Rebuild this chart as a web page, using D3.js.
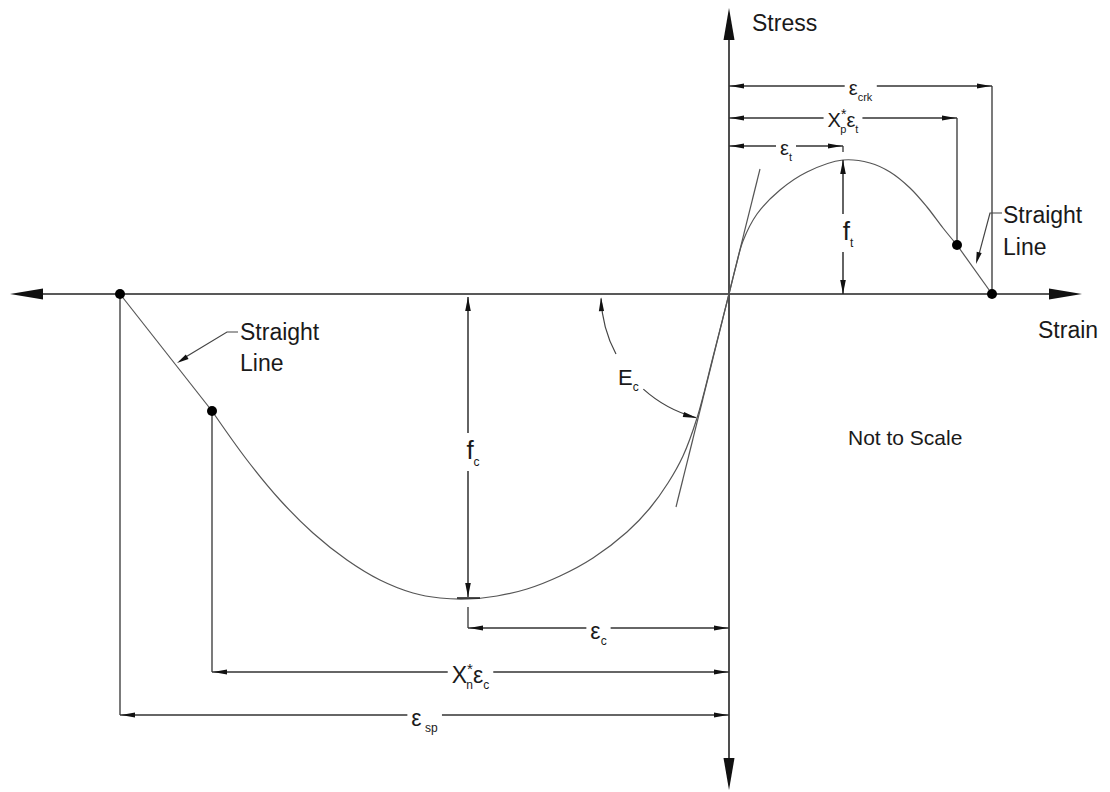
<!DOCTYPE html>
<html><head><meta charset="utf-8">
<script src="https://cdn.jsdelivr.net/npm/d3@7"></script>
<style>html,body{margin:0;padding:0;background:#fff}svg{display:block}text{font-family:"Liberation Sans",Arial,sans-serif;fill:#1a1a1a}</style>
</head><body><svg id="c" width="1110" height="792"></svg>
<script>
// ---- data (schematic units: strain, stress; "not to scale") ----
const compStraight = [[-609,0],[-517,-117]];
const compCurve = [[-517,-117],[-482,-166],[-449,-206],[-416,-239],[-382,-266],[-349,-286],[-316,-299],[-289,-304],[-261,-305],[-232,-302],[-202,-295],[-169,-282],[-136,-264],[-102,-238],[-79,-214],[-61,-189],[-46,-162],[-32,-124],[-16,-63],[0,0]];
const tensCurve = [[0,0],[7,28],[14,53],[28,80],[51,104],[78,122],[114,134],[141,131],[161,122],[181,106],[198,87],[214,66],[228,49]];
const tensStraight = [[228,49],[263,0]];
const tangentLine = [[-53,-213],[31,125]];
const keyPoints = [[-609,0],[-517,-117],[228,49],[263,0]];
const axisStrain = [-719,353];
const axisStress = [-496,286];

const dimNames = ["crk","xp","t","c","xn","sp"];
const dimLevels = [208,176,148,-334,-378,-421];
const dimFrom = [0,0,0,-261,-517,-609];
const dimTo = [263,228,114,0,0,0];
const dimLabels = [
  [["ε","m"],["crk","sub"]],
  [["X","m"],["*","sup"],["p","stack"],["ε","m"],["t","sub"]],
  [["ε","m"],["t","sub"]],
  [["ε","m"],["c","sub"]],
  [["X","m"],["*","sup"],["n","stack"],["ε","m"],["c","sub"]],
  [["ε","m"],[" sp","sub"]]
];
// extension lines: [strain, stressFrom, stressTo]
const extLines = [[263,0,208],[228,49,176],[114,142,148],[-261,-313,-334],[-517,-117,-378],[-609,0,-421]];
const peakTick = [[-272,-304],[-249,-304]];
const stressArrows = [{x:114, from:134, to:0, label:[["f","m"],["t","sub"]], ly:62},
                      {x:-261, from:-3, to:-303, label:[["f","m"],["c","sub"]], ly:-157}];

// ---- scales ----
const svg = d3.select("#c");
const x = d3.scaleLinear().domain([-719,356]).range([10,1085]);
const y = d3.scaleLinear().domain([289,-498]).range([5,792]);

function arrowHead(tx,ty,ang,len,hw,fill){
  const bx = tx - len*Math.cos(ang), by = ty - len*Math.sin(ang);
  const nx = -Math.sin(ang)*hw, ny = Math.cos(ang)*hw;
  svg.append("path").attr("d",`M${tx},${ty}L${bx+nx},${by+ny}L${bx-nx},${by-ny}Z`).attr("fill",fill||"#111");
}
function label(cx,by,parts,mainSize,subSize,anchor){
  const t = svg.append("text").attr("x",cx).attr("y",by).attr("text-anchor",anchor||"middle");
  let cur = 0;
  const off = {m:0, sub:Math.round(mainSize*0.28), sup:-Math.round(mainSize*0.38), stack:Math.round(mainSize*0.28)};
  parts.forEach(([s,k])=>{
    const sp = t.append("tspan").text(s).attr("font-size", k==="m"?mainSize:subSize);
    const d = off[k]-cur;
    if(d) sp.attr("dy",d);
    if(k==="stack") sp.attr("dx",-subSize*0.55);
    if(k==="sup") sp.attr("font-size",subSize+3);
    cur = off[k];
  });
  return t;
}

// ---- axes ----
svg.append("line").attr("x1",x(axisStrain[0])+20).attr("x2",x(axisStrain[1])-20).attr("y1",y(0)).attr("y2",y(0)).attr("stroke","#222").attr("stroke-width",1.6);
svg.append("line").attr("x1",x(0)).attr("x2",x(0)).attr("y1",y(axisStress[1])+20).attr("y2",y(axisStress[0])-20).attr("stroke","#222").attr("stroke-width",1.6);
arrowHead(x(axisStrain[0]),y(0),Math.PI,33,5.5);
arrowHead(x(axisStrain[1]),y(0),0,33,5.5);
arrowHead(x(0),y(axisStress[1]),-Math.PI/2,32,5.5);
arrowHead(x(0),y(axisStress[0]),Math.PI/2,32,5.5);

// ---- curve ----
const lineS = d3.line().x(d=>x(d[0])).y(d=>y(d[1]));
const lineC = d3.line().x(d=>x(d[0])).y(d=>y(d[1])).curve(d3.curveCatmullRom.alpha(0.5));
[compStraight,tensStraight].forEach(a=>svg.append("path").attr("d",lineS(a)).attr("fill","none").attr("stroke","#555").attr("stroke-width",1.2));
[compCurve,tensCurve].forEach(a=>svg.append("path").attr("d",lineC(a)).attr("fill","none").attr("stroke","#555").attr("stroke-width",1.2));
svg.append("path").attr("d",lineS(tangentLine)).attr("fill","none").attr("stroke","#555").attr("stroke-width",1.2);

// ---- extension lines ----
extLines.forEach(([s,a,b])=>svg.append("line").attr("x1",x(s)).attr("x2",x(s)).attr("y1",y(a)).attr("y2",y(b)).attr("stroke","#333").attr("stroke-width",1.3));
svg.append("path").attr("d",lineS(peakTick)).attr("stroke","#222").attr("stroke-width",1.6);

// ---- dimension lines ----
dimNames.forEach((n,i)=>{
  const ly = y(dimLevels[i]);
  const x0 = x(dimFrom[i]), x1 = x(dimTo[i]);
  const top = dimLevels[i] > 0;
  const t = label((x0+x1)/2, ly + (top?9:11), dimLabels[i], top?20:23, top?11:12);
  const bb = t.node().getBBox();
  const g0 = bb.x - 4, g1 = bb.x + bb.width + 4;
  svg.append("line").attr("x1",x0).attr("x2",g0).attr("y1",ly).attr("y2",ly).attr("stroke","#333").attr("stroke-width",1.3);
  svg.append("line").attr("x1",g1).attr("x2",x1).attr("y1",ly).attr("y2",ly).attr("stroke","#333").attr("stroke-width",1.3);
  arrowHead(x0+1,ly,Math.PI,14,2.6);
  arrowHead(x1-1,ly,0,14,2.6);
});

// ---- stress (f) arrows ----
stressArrows.forEach(d=>{
  const xx = x(d.x);
  const t = label(xx+5, y(d.ly)+8, d.label, 26, 12);
  const bb = t.node().getBBox();
  const ya = y(d.from), yb = y(d.to);
  svg.append("line").attr("x1",xx).attr("x2",xx).attr("y1",ya).attr("y2",bb.y-2).attr("stroke","#222").attr("stroke-width",1.4);
  svg.append("line").attr("x1",xx).attr("x2",xx).attr("y1",bb.y+bb.height+2).attr("y2",yb).attr("stroke","#222").attr("stroke-width",1.4);
  arrowHead(xx,ya,ya<yb?-Math.PI/2:Math.PI/2,14,2.8);
  arrowHead(xx,yb,yb>ya?Math.PI/2:-Math.PI/2,14,2.8);
});

// ---- E_c arc ----
const ox = x(0), oy = y(0), R = 128;
const deg = Math.PI/180;
function arcPath(a0,a1){ const p = d3.path(); p.moveTo(ox+R*Math.cos(a0),oy+R*Math.sin(a0)); p.arc(ox,oy,R,a0,a1,a1<a0); return p.toString(); }
svg.append("path").attr("d",arcPath(152*deg,178*deg)).attr("fill","none").attr("stroke","#444").attr("stroke-width",1.2);
svg.append("path").attr("d",arcPath(132*deg,105*deg)).attr("fill","none").attr("stroke","#444").attr("stroke-width",1.2);
arrowHead(ox+R*Math.cos(178.6*deg),oy+R*Math.sin(178.6*deg),-Math.PI/2-0.03,14,2.6);
{ const a=104.5*deg; arrowHead(ox+R*Math.cos(a),oy+R*Math.sin(a),a-Math.PI/2,14,2.6); }
label(x(-111),y(-91),[["E","m"],["c","sub"]],22,12,"start");

// ---- points ----
svg.selectAll("circle.k").data(keyPoints).join("circle").attr("cx",d=>x(d[0])).attr("cy",d=>y(d[1])).attr("r",5).attr("fill","#000");

// ---- texts & leaders ----
svg.append("text").attr("x",752).attr("y",31).attr("font-size",23).text("Stress");
svg.append("text").attr("x",1038).attr("y",338).attr("font-size",23).text("Strain");
svg.append("text").attr("x",848).attr("y",445).attr("font-size",21).text("Not to Scale");
svg.append("text").attr("x",1003).attr("y",223).attr("font-size",23).text("Straight");
svg.append("text").attr("x",1003).attr("y",255).attr("font-size",23).text("Line");
svg.append("text").attr("x",240).attr("y",340).attr("font-size",23).text("Straight");
svg.append("text").attr("x",240).attr("y",371).attr("font-size",23).text("Line");
svg.append("path").attr("d","M1002,213L990,213L978,258").attr("fill","none").attr("stroke","#444").attr("stroke-width",1.2);
arrowHead(976,264,Math.atan2(51,-14),12,2.6);
svg.append("path").attr("d","M238,332L227,332L184,358").attr("fill","none").attr("stroke","#444").attr("stroke-width",1.2);
arrowHead(177,363,Math.atan2(31,-50),12,2.6);
</script></body></html>
